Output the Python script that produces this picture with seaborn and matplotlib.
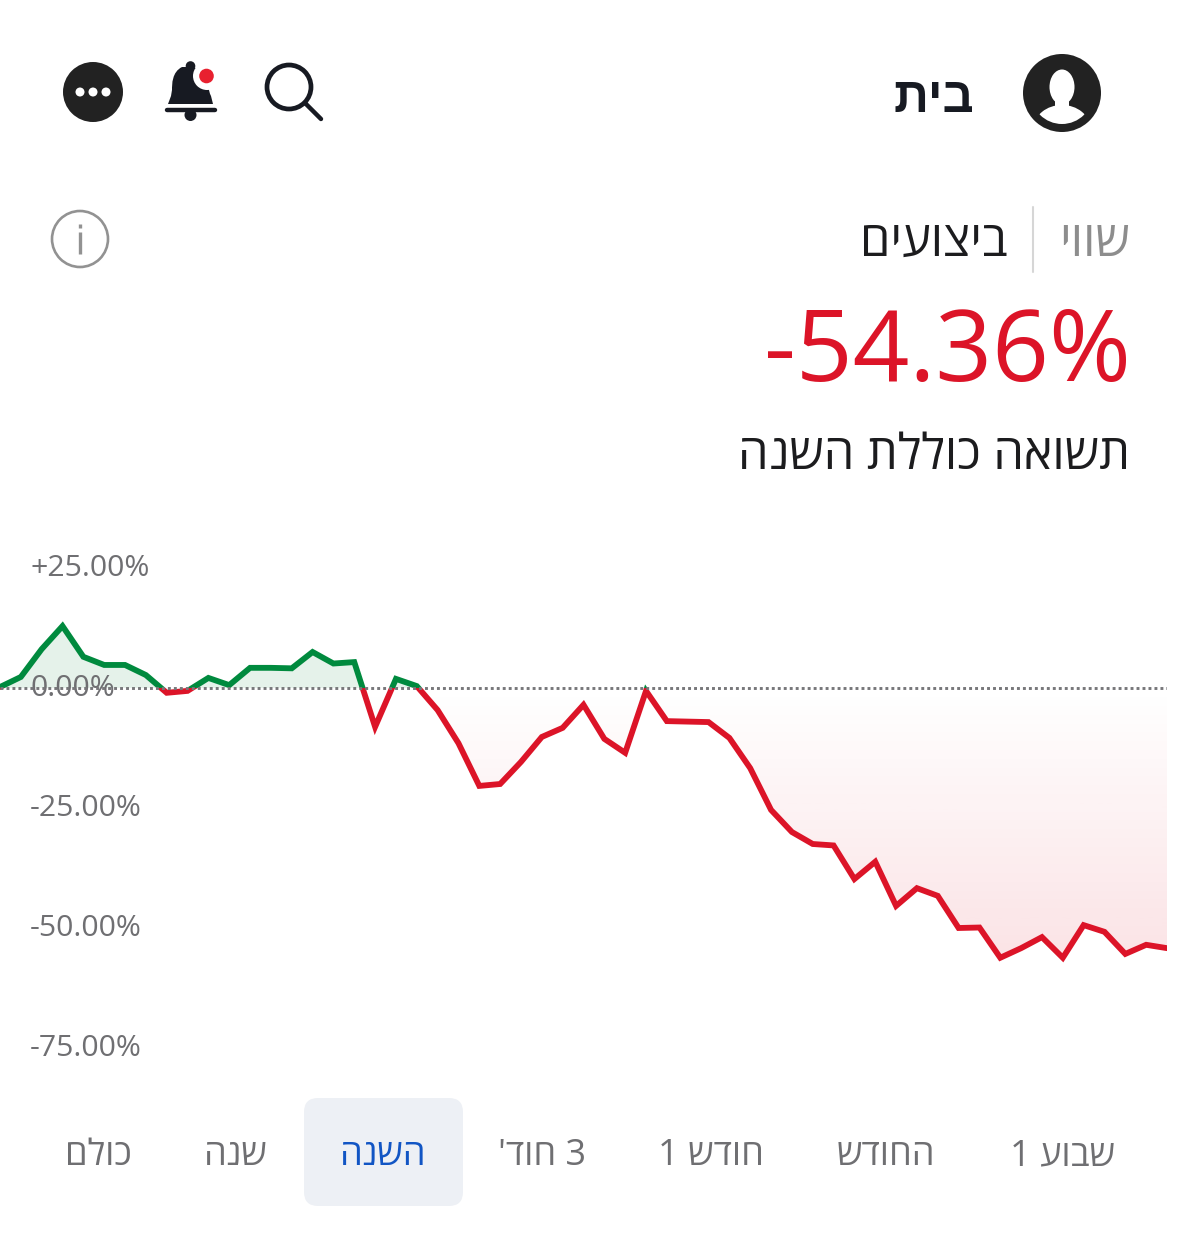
import numpy as np
import pandas as pd
import seaborn as sns
import matplotlib.pyplot as plt
from matplotlib.patches import Circle, Ellipse, FancyBboxPatch, PathPatch, Rectangle
from matplotlib.path import Path
from matplotlib.transforms import ScaledTranslation

# chart values, percent
returns = [0.2, 2.3, 8.1, 12.9, 6.5, 4.8, 4.8, 2.7, -1.0, -0.6, 2.1, 0.6, 4.2, 4.2, 4.1,
           7.5, 5.1, 5.4, -8.1, 1.9, 0.4, -4.6, -11.5, -20.4, -20.0, -15.4, -10.2, -8.3,
           -3.5, -10.6, -13.5, -0.6, -6.9, -7.0, -7.1, -10.4, -16.7, -25.4, -30.0, -32.5,
           -32.8, -39.8, -36.2, -45.4, -41.7, -43.3, -50.0, -49.9, -56.2, -54.2, -51.9,
           -56.2, -49.4, -50.8, -55.4, -53.5, -54.2]
y_ticks = [25, 0, -25, -50, -75]
y_tick_labels = ["+25.00%", "0.00%", "-25.00%", "-50.00%", "-75.00%"]
tab_labels = ["שבוע 1", "החודש", "חודש 1", "3 חוד'", "השנה", "שנה", "כולם"]
tab_centers = [1062, 886, 711, 542, 383, 236, 98]
active_tab = "השנה"

GREEN = "#008a3e"
RED = "#dc1428"
DARK = "#171a22"
GREY = "#6f6f72"


def rtl(s):
    # matplotlib has no bidi, Hebrew goes in visual order
    return s[::-1]


sns.set_theme(style="white")
plt.rcParams["font.family"] = ["Open Sans", "Liberation Sans", "DejaVu Sans"]

W, H = 1179, 1234
fig = plt.figure(figsize=(W / 100, H / 100), dpi=100, facecolor="white")

# chart: 4.8 px per percent, zero line at pixel y=688
y_top, y_bottom = 30, -80
ax_top = 688 - y_top * 4.8
ax_bottom = 688 - y_bottom * 4.8
ax = fig.add_axes([0, 1 - ax_bottom / H, 1167 / W, (ax_bottom - ax_top) / H])
sns.despine(ax=ax, left=True, bottom=True)
ax.patch.set_alpha(0)
ax.set_axisbelow(False)

df = pd.DataFrame({"step": np.arange(len(returns)), "pct": returns})
last = df["step"].iloc[-1]
vals = df["pct"].to_numpy()

ax.fill_between(df["step"], vals, 0, where=vals >= 0, interpolate=True,
                color="#e5f2ea", linewidth=0, zorder=1)

# red area fades towards the zero line
neg = ax.fill_between(df["step"], vals, 0, where=vals <= 0, interpolate=True,
                      color="none", linewidth=0)
fade = np.zeros((256, 1, 4))
fade[..., :3] = (220 / 255, 20 / 255, 40 / 255)
fade[..., 3] = np.linspace(0, 0.12, 256)[:, None]
im = ax.imshow(fade, extent=[0, last, vals.min(), 0], aspect="auto", origin="upper", zorder=1)
im.set_clip_path(Path.make_compound_path(*neg.get_paths()), transform=ax.transData)

ax.set_xlim(0, last)
ax.set_ylim(y_bottom, y_top)

sns.lineplot(data=df, x="step", y="pct", color=GREEN, linewidth=4.2, ax=ax, zorder=3,
             solid_joinstyle="miter")
ax.lines[-1].set_clip_path(Rectangle((0, 0), last, y_top, transform=ax.transData))
sns.lineplot(data=df, x="step", y="pct", color=RED, linewidth=4.2, ax=ax, zorder=3,
             solid_joinstyle="miter")
ax.lines[-1].set_clip_path(Rectangle((0, y_bottom), last, -y_bottom, transform=ax.transData))

ax.axhline(0, color="#77777a", linewidth=2.1, linestyle=(0, (1, 1.05)), zorder=4)

ax.set_xlabel("")
ax.set_ylabel("")
ax.set_xticks([])
ax.set_yticks(y_ticks)
ax.set_yticklabels(y_tick_labels, fontsize=21.8, color=GREY, ha="left")
ax.tick_params(axis="y", length=0, pad=-30 * 0.72)
for lab in ax.get_yticklabels():
    lab.set_transform(lab.get_transform() + ScaledTranslation(0, 2.5 / 100, fig.dpi_scale_trans))

# overlay in pixel coordinates for the app chrome around the chart
top = fig.add_axes([0, 0, 1, 1], zorder=5)
top.set_xlim(0, W)
top.set_ylim(H, 0)
top.axis("off")

# avatar
top.add_patch(Circle((1062, 93), 39, color="#222222", lw=0))
mask = Circle((1062, 93), 31, transform=top.transData)
top.add_patch(Ellipse((1062, 87), 25, 35, color="white", lw=0))
top.add_patch(Rectangle((1055, 96), 14, 14, color="white", lw=0))
body = Ellipse((1062, 128), 56, 46, color="white", lw=0)
top.add_patch(body)
body.set_clip_path(mask)

# more button
top.add_patch(Circle((93, 92), 30, color="#222222", lw=0))
for dx in (-13, 0, 13):
    top.add_patch(Circle((93 + dx, 92), 4.5, color="white", lw=0))

# bell
bell = Path([(168, 104), (171, 96), (172, 90), (172, 84), (172, 72), (182, 67), (190, 67),
             (198, 67), (208, 72), (208, 84), (208, 90), (211, 96), (213, 104), (168, 104)],
            [Path.MOVETO, Path.LINETO, Path.LINETO, Path.CURVE4, Path.CURVE4, Path.CURVE4,
             Path.CURVE4, Path.CURVE4, Path.CURVE4, Path.CURVE4, Path.LINETO, Path.LINETO,
             Path.LINETO, Path.CLOSEPOLY])
top.add_patch(PathPatch(bell, color=DARK, lw=0))
top.add_patch(Circle((190.5, 66), 4.8, color=DARK, lw=0))
top.plot([166.5, 215], [110, 110], color=DARK, lw=3.2, solid_capstyle="round")
top.add_patch(Circle((190.5, 115), 6, color=DARK, lw=0))
top.add_patch(Circle((207, 76), 14, color="white", lw=0))
top.add_patch(Circle((206.5, 76), 7.3, color="#e8202f", lw=0))

# search
top.add_patch(Circle((289, 87), 22, fill=False, edgecolor=DARK, lw=3.4))
top.plot([305, 321], [103, 119], color=DARK, lw=3.2, solid_capstyle="round")

# info
top.add_patch(Circle((80, 239), 28, fill=False, edgecolor="#929292", lw=1.9))
top.plot([80, 80], [232, 254], color="#929292", lw=2.4, solid_capstyle="butt")
top.plot([80, 80], [224, 228], color="#929292", lw=2.4, solid_capstyle="butt")

# header texts
top.text(974, 112, rtl("בית"), fontsize=35, fontweight="bold", color=DARK, ha="right", va="baseline")
top.text(1130, 256, rtl("שווי"), fontsize=35, color="#8d8d8d", ha="right", va="baseline")
top.plot([1033, 1033], [207, 272], color="#d6d6d6", lw=1.5)
top.text(1008, 256, rtl("ביצועים"), fontsize=35, color="#1c1c1e", ha="right", va="baseline")
top.text(1131, 381, "-54.36%", fontsize=71.5, color=RED, ha="right", va="baseline")
top.text(1130, 469, rtl("תשואה כוללת השנה"), fontsize=35, color="#1c1c1e", ha="right", va="baseline")

# range tabs
top.add_patch(FancyBboxPatch((304 + 14, 1098 + 14), 159 - 28, 108 - 28,
                             boxstyle="round,pad=14,rounding_size=14", color="#edf0f5", lw=0))
for label, cx in zip(tab_labels, tab_centers):
    col = "#1155c4" if label == active_tab else GREY
    top.text(cx, 1165, rtl(label), fontsize=26, color=col, ha="center", va="baseline")

fig.savefig("out.png", dpi=100)
